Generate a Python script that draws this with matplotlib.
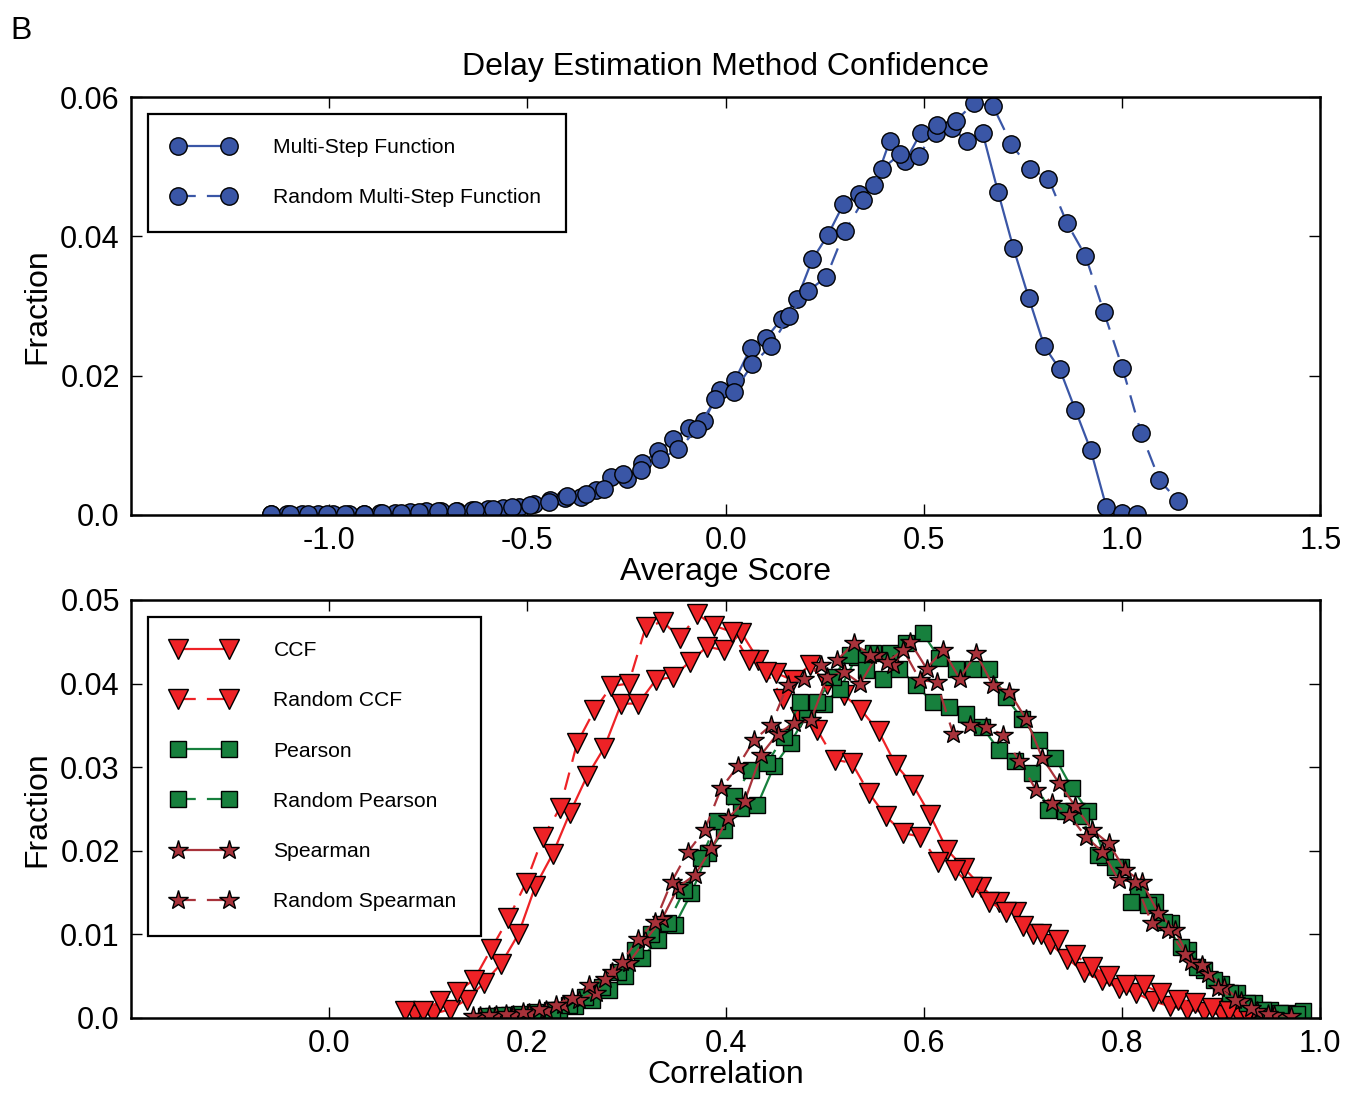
import numpy as np
import matplotlib
matplotlib.use('Agg')
import matplotlib.pyplot as plt

plt.rcParams['font.family'] = ['Liberation Sans', 'DejaVu Sans']

# ---- top panel: average score histograms (bin centres evenly spaced) ----
msf_range = (-1.146, 1.038)
msf_frac = [0.0001, 0.0001, 0.0001, 0.0001, 0.0001, 0.0002, 0.0002, 0.0003, 0.0003,
            0.0004, 0.0005, 0.0005, 0.0006, 0.0007, 0.0008, 0.0010, 0.0012, 0.0015,
            0.0021, 0.0025, 0.0026, 0.0036, 0.0055, 0.0051, 0.0074, 0.0092, 0.0109,
            0.0125, 0.0135, 0.0179,
            0.0194, 0.0240, 0.0254, 0.0281, 0.0310, 0.0367, 0.0402, 0.0446, 0.0461,
            0.0474, 0.0537, 0.0508, 0.0548, 0.0549, 0.0556, 0.0537, 0.0549,
            0.0464, 0.0383, 0.0311, 0.0242, 0.0209, 0.0151, 0.0093, 0.0012, 0.0003, 0.0001]

rmsf_range = (-1.146, 1.141)
rmsf_frac = [0.0001, 0.0001, 0.0001, 0.0001, 0.0002, 0.0002, 0.0003, 0.0003, 0.0004,
             0.0005, 0.0006, 0.0007, 0.0009, 0.0011, 0.0014, 0.0019,
             0.0027, 0.0030, 0.0037, 0.0059, 0.0065, 0.0081, 0.0094, 0.0123, 0.0166,
             0.0177, 0.0216, 0.0243, 0.0286, 0.0321, 0.0342, 0.0408, 0.0452, 0.0497,
             0.0518, 0.0515, 0.0560, 0.0566, 0.0592, 0.0587, 0.0532, 0.0497, 0.0483,
             0.0419, 0.0372, 0.0291, 0.0211, 0.0118, 0.0050, 0.0020]

# ---- bottom panel: correlation histograms ----
ccf_range = (0.087, 0.935)
ccf_frac = [0.0003, 0.0005, 0.0010, 0.0022, 0.0042, 0.0065, 0.0100, 0.0158, 0.0196, 0.0245,
            0.0289, 0.0323, 0.0376, 0.0376, 0.0404, 0.0408, 0.0426, 0.0444, 0.0440, 0.0461,
            0.0428, 0.0413, 0.0404, 0.0422, 0.0400, 0.0386, 0.0368, 0.0343, 0.0303, 0.0279,
            0.0243, 0.0201, 0.0179, 0.0157, 0.0139, 0.0127, 0.0101, 0.0089, 0.0071, 0.0055,
            0.0045, 0.0036, 0.0030, 0.0020, 0.0014, 0.0010, 0.0007, 0.0004, 0.0002, 0.0001]

rccf_range = (0.077, 0.943)
rccf_frac = [0.0008, 0.0008, 0.0020, 0.0031, 0.0046, 0.0083, 0.0119, 0.0161, 0.0216, 0.0251,
             0.0329, 0.0368, 0.0397, 0.0400, 0.0468, 0.0474, 0.0454, 0.0483, 0.0469, 0.0462,
             0.0428, 0.0414, 0.0382, 0.0360, 0.0344, 0.0309, 0.0305, 0.0269, 0.0241, 0.0221,
             0.0217, 0.0187, 0.0177, 0.0157, 0.0139, 0.0127, 0.0110, 0.0100, 0.0093, 0.0075,
             0.0061, 0.0050, 0.0039, 0.0039, 0.0030, 0.0022, 0.0018, 0.0012, 0.0008, 0.0004,
             0.0002]

pear_range = (0.165, 0.983)
pear_frac = [0.0002, 0.0003, 0.0004, 0.0006, 0.0009, 0.0014, 0.0022, 0.0033, 0.0050, 0.0072,
             0.0093, 0.0111, 0.0149, 0.0197, 0.0225, 0.0251, 0.0255, 0.0301, 0.0329, 0.0364,
             0.0376, 0.0394, 0.0432, 0.0436, 0.0436, 0.0448, 0.0460, 0.0430, 0.0418, 0.0418,
             0.0418, 0.0384, 0.0358, 0.0332, 0.0311, 0.0275, 0.0247, 0.0193, 0.0181, 0.0153,
             0.0139, 0.0113, 0.0081, 0.0057, 0.0041, 0.0030, 0.0018, 0.0010, 0.0006, 0.0008]

rpear_range = (0.158, 0.976)
rpear_frac = [0.0002, 0.0003, 0.0005, 0.0007, 0.0010, 0.0016, 0.0025, 0.0037, 0.0055, 0.0081,
              0.0101, 0.0113, 0.0153, 0.0191, 0.0235, 0.0265, 0.0297, 0.0305, 0.0336, 0.0378,
              0.0378, 0.0408, 0.0434, 0.0416, 0.0406, 0.0418, 0.0398, 0.0378, 0.0372, 0.0364,
              0.0348, 0.0321, 0.0307, 0.0293, 0.0249, 0.0247, 0.0241, 0.0195, 0.0181, 0.0139,
              0.0135, 0.0115, 0.0085, 0.0061, 0.0045, 0.0030, 0.0018, 0.0010, 0.0006, 0.0005]

spear_range = (0.152, 0.970)
spear_frac = [0.0002, 0.0003, 0.0004, 0.0006, 0.0010, 0.0015, 0.0022, 0.0030, 0.0055, 0.0066,
              0.0093, 0.0118, 0.0157, 0.0171, 0.0203, 0.0239, 0.0259, 0.0315, 0.0340, 0.0353,
              0.0356, 0.0408, 0.0414, 0.0400, 0.0434, 0.0422, 0.0450, 0.0418, 0.0440, 0.0406,
              0.0436, 0.0398, 0.0390, 0.0358, 0.0311, 0.0281, 0.0253, 0.0225, 0.0209, 0.0177,
              0.0163, 0.0126, 0.0105, 0.0067, 0.0053, 0.0037, 0.0020, 0.0008, 0.0004, 0.0002]

rspear_range = (0.145, 0.947)
rspear_frac = [0.0002, 0.0003, 0.0005, 0.0007, 0.0011, 0.0016, 0.0024, 0.0039, 0.0047, 0.0067,
               0.0095, 0.0115, 0.0163, 0.0199, 0.0225, 0.0275, 0.0301, 0.0333, 0.0350, 0.0398,
               0.0406, 0.0422, 0.0428, 0.0448, 0.0434, 0.0426, 0.0440, 0.0404, 0.0402, 0.0340,
               0.0350, 0.0348, 0.0339, 0.0307, 0.0273, 0.0257, 0.0243, 0.0217, 0.0199, 0.0165,
               0.0163, 0.0113, 0.0105, 0.0077, 0.0063, 0.0036, 0.0022, 0.0012, 0.0005]

top_xticks = [-1.0, -0.5, 0.0, 0.5, 1.0, 1.5]
top_xlabels = ['-1.0', '-0.5', '0.0', '0.5', '1.0', '1.5']
top_yticks = [0.0, 0.02, 0.04, 0.06]
top_ylabels = ['0.0', '0.02', '0.04', '0.06']
bot_xticks = [0.0, 0.2, 0.4, 0.6, 0.8, 1.0]
bot_xlabels = ['0.0', '0.2', '0.4', '0.6', '0.8', '1.0']
bot_yticks = [0.0, 0.01, 0.02, 0.03, 0.04, 0.05]
bot_ylabels = ['0.0', '0.01', '0.02', '0.03', '0.04', '0.05']

BLUE = '#3a56a6'
RED = '#ee2226'
GREEN = '#17803d'
BROWN = '#a8323a'
DASH = (8, 5)


def centres(rng, vals):
    return np.linspace(rng[0], rng[1], len(vals))


def style_axes(ax, xticks, xlabels, yticks, ylabels):
    ax.set_xticks(xticks)
    ax.set_xticklabels(xlabels)
    ax.set_yticks(yticks)
    ax.set_yticklabels(ylabels)
    ax.tick_params(direction='in', length=8, width=1, top=True, right=True,
                   labelsize=22, pad=8)
    for sp in ax.spines.values():
        sp.set_linewidth(1.8)


def add_legend(ax):
    leg = ax.legend(loc='upper left', numpoints=2, fontsize=15.2, handlelength=3.0,
                    handletextpad=1.8, borderpad=1.15, labelspacing=1.48,
                    borderaxespad=0.8, fancybox=False, framealpha=1, edgecolor='black')
    leg.get_frame().set_linewidth(1.6)


fig = plt.figure(figsize=(13.5, 10.94), dpi=100)
ax1 = fig.add_axes([0.097, 0.5293, 0.881, 0.3820])
ax2 = fig.add_axes([0.097, 0.0695, 0.881, 0.3821])

# top panel
ax1.plot(centres(msf_range, msf_frac), msf_frac, '-', color=BLUE, lw=1.6,
         marker='o', ms=12.5, mfc=BLUE, mec='black', mew=1, label='Multi-Step Function')
ax1.plot(centres(rmsf_range, rmsf_frac), rmsf_frac, '--', dashes=DASH, color=BLUE, lw=1.6,
         marker='o', ms=12.5, mfc=BLUE, mec='black', mew=1, label='Random Multi-Step Function')
ax1.set_xlim(-1.5, 1.5)
ax1.set_ylim(0, 0.06)
style_axes(ax1, top_xticks, top_xlabels, top_yticks, top_ylabels)
ax1.set_xlabel('Average Score', fontsize=23, labelpad=1)
ax1.set_ylabel('Fraction', fontsize=23, labelpad=6)
ax1.set_title('Delay Estimation Method Confidence', fontsize=23, pad=16)
add_legend(ax1)

# bottom panel
ax2.plot(centres(ccf_range, ccf_frac), ccf_frac, '-', color=RED, lw=1.6,
         marker='v', ms=14.5, mfc=RED, mec='black', mew=1, label='CCF')
ax2.plot(centres(rccf_range, rccf_frac), rccf_frac, '--', dashes=DASH, color=RED, lw=1.6,
         marker='v', ms=14.5, mfc=RED, mec='black', mew=1, label='Random CCF')
ax2.plot(centres(pear_range, pear_frac), pear_frac, '-', color=GREEN, lw=1.6,
         marker='s', ms=12, mfc=GREEN, mec='black', mew=1, label='Pearson')
ax2.plot(centres(rpear_range, rpear_frac), rpear_frac, '--', dashes=DASH, color=GREEN, lw=1.6,
         marker='s', ms=12, mfc=GREEN, mec='black', mew=1, label='Random Pearson')
ax2.plot(centres(spear_range, spear_frac), spear_frac, '-', color=BROWN, lw=1.6,
         marker='*', ms=15, mfc=BROWN, mec='black', mew=1, label='Spearman')
ax2.plot(centres(rspear_range, rspear_frac), rspear_frac, '--', dashes=DASH, color=BROWN, lw=1.6,
         marker='*', ms=15, mfc=BROWN, mec='black', mew=1, label='Random Spearman')
ax2.set_xlim(-0.2, 1.0)
ax2.set_ylim(0, 0.05)
style_axes(ax2, bot_xticks, bot_xlabels, bot_yticks, bot_ylabels)
ax2.set_xlabel('Correlation', fontsize=23, labelpad=1)
ax2.set_ylabel('Fraction', fontsize=23, labelpad=6)
add_legend(ax2)

fig.text(0.008, 0.972, 'B', fontsize=23, va='center', ha='left')

fig.savefig('out.png', dpi=100)
